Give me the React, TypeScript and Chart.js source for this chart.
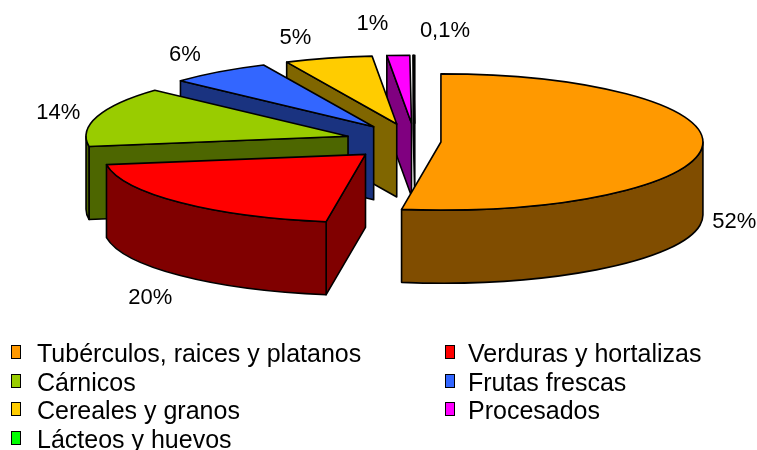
import React, { useEffect, useRef } from 'react';
import { Chart, registerables } from 'chart.js';

Chart.register(...registerables);

// ---------- data ----------
const categories = [
  'Tubérculos, raices y platanos',
  'Verduras y hortalizas',
  'Cárnicos',
  'Frutas frescas',
  'Cereales y granos',
  'Procesados',
  'Lácteos y huevos',
];
const values = [52.4, 20.2, 14.2, 6.3, 5.4, 1.4, 0.1];

// ---------- style ----------
const topColors = ['#FF9900', '#FF0000', '#99CC00', '#3366FF', '#FFCC00', '#FF00FF', '#00FF00'];
const explode = [26, 70, 70, 70, 70, 70, 70];
const labelNudge: [number, number][] = [
  [32, 75],
  [-30, 95],
  [-39, -3],
  [-34, -17],
  [-33, -20],
  [-26, -31],
  [31, -24],
];
const TILT = 0.26;
const DEPTH = 73;
const RADIUS = 262;
const FONT = '"Liberation Sans", Arial, sans-serif';
const TAU = Math.PI * 2;

function darken(hex: string): string {
  const n = parseInt(hex.slice(1), 16);
  const r = Math.round(((n >> 16) & 255) / 2);
  const g = Math.round(((n >> 8) & 255) / 2);
  const b = Math.round((n & 255) / 2);
  return `rgb(${r},${g},${b})`;
}
const sideColors = topColors.map(darken);

function fmtPct(v: number): string {
  if (v < 1) return v.toFixed(1).replace('.', ',') + '%';
  return Math.round(v) + '%';
}

const pie3d = {
  id: 'pie3d',
  beforeDatasetDraw: () => false,
  afterDatasetsDraw(chart: any) {
    const ctx: CanvasRenderingContext2D = chart.ctx;
    const meta = chart.getDatasetMeta(0);
    const slices = meta.data.map((arc: any, i: number) => {
      const p = arc.getProps(['x', 'y', 'startAngle', 'endAngle', 'outerRadius'], true);
      const off = arc.options.offset || 0;
      const mid = (p.startAngle + p.endAngle) / 2;
      return {
        i,
        s: p.startAngle as number,
        e: p.endAngle as number,
        mid,
        ax: p.x + Math.cos(mid) * off,
        ay: p.y + Math.sin(mid) * off * TILT,
        rx: p.outerRadius as number,
        ry: (p.outerRadius as number) * TILT,
      };
    });
    const rim = (s: any, a: number, z: number): [number, number] => [
      s.ax + s.rx * Math.cos(a),
      s.ay + s.ry * Math.sin(a) + z,
    ];
    const frontDist = (m: number) => {
      let d = (((m - Math.PI / 2) % TAU) + TAU) % TAU;
      if (d > Math.PI) d = TAU - d;
      return d;
    };
    const order = [...slices].sort((a: any, b: any) => frontDist(b.mid) - frontDist(a.mid));

    ctx.save();
    ctx.lineWidth = 1.6;
    ctx.strokeStyle = '#000';
    ctx.lineJoin = 'round';
    for (const s of order) {
      const side = sideColors[s.i];
      const top = topColors[s.i];
      const faces: number[] = [];
      if (Math.cos(s.s) < -1e-6) faces.push(s.s);
      if (Math.cos(s.e) > 1e-6) faces.push(s.e);
      for (const a of faces) {
        const [x1, y1] = rim(s, a, 0);
        const [x2, y2] = rim(s, a, DEPTH);
        ctx.beginPath();
        ctx.moveTo(s.ax, s.ay);
        ctx.lineTo(x1, y1);
        ctx.lineTo(x2, y2);
        ctx.lineTo(s.ax, s.ay + DEPTH);
        ctx.closePath();
        ctx.fillStyle = side;
        ctx.fill();
        ctx.stroke();
      }
      for (let k = -1; k <= 1; k++) {
        const lo = Math.max(s.s, k * TAU);
        const hi = Math.min(s.e, k * TAU + Math.PI);
        if (hi - lo > 1e-4) {
          ctx.beginPath();
          ctx.ellipse(s.ax, s.ay, s.rx, s.ry, 0, lo, hi);
          ctx.ellipse(s.ax, s.ay + DEPTH, s.rx, s.ry, 0, hi, lo, true);
          ctx.closePath();
          ctx.fillStyle = side;
          ctx.fill();
          ctx.stroke();
        }
      }
      ctx.beginPath();
      ctx.moveTo(s.ax, s.ay);
      ctx.ellipse(s.ax, s.ay, s.rx, s.ry, 0, s.s, s.e);
      ctx.closePath();
      ctx.fillStyle = top;
      ctx.fill();
      ctx.stroke();
    }

    // data labels
    ctx.fillStyle = '#000';
    ctx.font = `22px ${FONT}`;
    ctx.textAlign = 'center';
    ctx.textBaseline = 'middle';
    for (const s of slices) {
      const [x, y] = rim(s, s.mid, 0);
      const [dx, dy] = labelNudge[s.i];
      ctx.fillText(fmtPct(values[s.i]), x + dx, y + dy);
    }
    ctx.restore();
  },
};

export default function App() {
  const ref = useRef<HTMLCanvasElement | null>(null);
  useEffect(() => {
    if (!ref.current) return;
    const chart = new Chart(ref.current, {
      type: 'pie',
      data: {
        labels: categories,
        datasets: [
          {
            data: values,
            backgroundColor: topColors,
            borderWidth: 0,
            offset: explode,
          } as any,
        ],
      },
      options: {
        animation: false,
        responsive: true,
        maintainAspectRatio: false,
        radius: RADIUS,
        events: [],
        layout: { padding: { left: 73, right: 0, top: 0, bottom: 167 } },
        plugins: {
          legend: { display: false },
          tooltip: { enabled: false },
        },
      } as any,
      plugins: [pie3d],
    });
    return () => chart.destroy();
  }, []);

  const legendCols = [11, 445];
  const textCols = [37, 468];
  return (
    <div
      style={{
        position: 'fixed',
        left: 0,
        top: 0,
        width: 757,
        height: 450,
        background: '#fff',
        overflow: 'hidden',
        fontFamily: FONT,
      }}
    >
      <div style={{ position: 'absolute', left: 0, top: 0, width: 757, height: 450 }}>
        <canvas ref={ref} />
      </div>
      {categories.map((c, i) => {
        const col = i % 2;
        const row = Math.floor(i / 2);
        const top = 339 + row * 28.5;
        return (
          <div key={c}>
            <div
              style={{
                position: 'absolute',
                left: legendCols[col],
                top: top + 6,
                width: 8,
                height: 12,
                border: '1px solid #000',
                background: topColors[i],
              }}
            />
            <div
              style={{
                position: 'absolute',
                left: textCols[col],
                top,
                fontSize: 25,
                lineHeight: '28.5px',
                color: '#000',
                whiteSpace: 'nowrap',
              }}
            >
              {c}
            </div>
          </div>
        );
      })}
    </div>
  );
}
